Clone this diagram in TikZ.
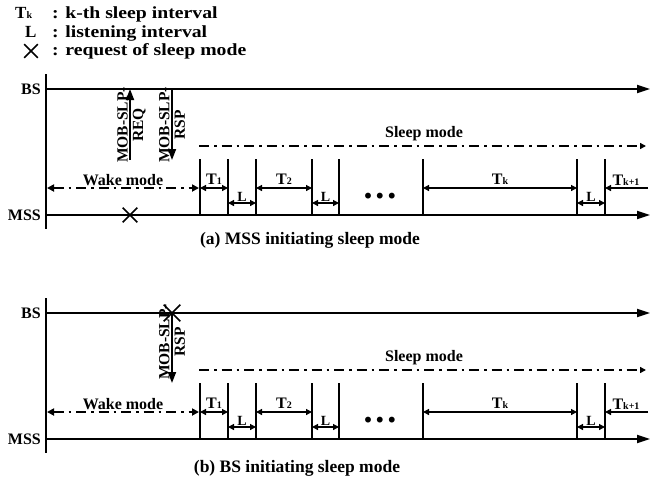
\documentclass[tikz,border=0pt]{standalone}
\usepackage{graphicx}
\usepackage{fontspec}
\setmainfont{Liberation Serif}
\usetikzlibrary{arrows.meta,shapes.misc}

\newcommand{\subidx}[1]{{\fontsize{10}{10}\selectfont #1}}
\newcommand{\keytext}[1]{\scalebox{1.16}[1]{#1}}

\tikzset{
  timeline/.style={line width=1.8pt, -{Triangle[length=13pt,width=8pt]}},
  tick/.style={line width=1.8pt},
  span/.style={line width=1.3pt, {Triangle[length=6pt,width=6pt]}-{Triangle[length=6pt,width=6pt]}},
  wake/.style={line width=2.4pt, dash pattern=on 10pt off 5pt on 2.5pt off 5pt,
    {Triangle[length=7pt,width=7pt]}-{Triangle[length=7pt,width=7pt]}},
  sleep/.style={line width=1.8pt, dash pattern=on 10pt off 5pt on 2.5pt off 5pt,
    -{Triangle[length=6pt,width=6pt]}},
  msg/.style={line width=1.8pt, -{Triangle[length=11pt,width=8pt]}},
  msgtext/.style={rotate=90, align=center, font=\bfseries\fontsize{15.5}{15.5}\selectfont, inner sep=0pt},
  req/.style={draw, cross out, line width=1.6pt, minimum size=13pt, inner sep=0pt},
  lbl/.style={font=\bfseries\fontsize{16}{16}\selectfont, inner sep=0pt},
  keyfont/.style={font=\bfseries\fontsize{17}{17}\selectfont, inner sep=0pt},
  small/.style={font=\bfseries\fontsize{14}{14}\selectfont, inner sep=0pt},
  caption/.style={font=\bfseries\fontsize{17.5}{17.5}\selectfont, inner sep=0pt},
}

\begin{document}
\begin{tikzpicture}[x=1pt, y=-1pt]
  \useasboundingbox (0,0) rectangle (654,485);

  % legend
  \node[keyfont, anchor=base west] (key-t) at (15,18) {T\subidx{k}};
  \node[keyfont, anchor=base west] (key-l) at (25,37) {L};
  \node[req, minimum size=12pt] (key-x) at (31,51) {};
  \node[keyfont, anchor=base west] (txt-t) at (52,18) {\keytext{: k-th sleep interval}};
  \node[keyfont, anchor=base west] (txt-l) at (52,37) {\keytext{: listening interval}};
  \node[keyfont, anchor=base west] (txt-x) at (52,55) {\keytext{: request of sleep mode}};

  % time axes, intervals and modes (same in both panels)
  \foreach \p/\dy in {a/0, b/224} {
    \begin{scope}[shift={(0,\dy)}]
      \coordinate (top-\p) at (46,74);
      \coordinate (bot-\p) at (46,229);
      \coordinate (bs0-\p) at (46,89);
      \coordinate (bs1-\p) at (650,89);
      \coordinate (ms0-\p) at (46,215);
      \coordinate (ms1-\p) at (650,215);
      \node[lbl, anchor=east] (bs-\p) at (41,89) {BS};
      \node[lbl, anchor=east] (mss-\p) at (41,215) {MSS};
      \draw[tick] (top-\p) -- (bot-\p);
      \draw[timeline] (bs0-\p) -- (bs1-\p);
      \draw[timeline] (ms0-\p) -- (ms1-\p);

      \foreach \x [count=\i] in {200,228,256,312,339,423,577,605} {
        \coordinate (u\i-\p) at (\x,159);
        \coordinate (v\i-\p) at (\x,215);
        \coordinate (t\i-\p) at (\x,188);
        \coordinate (l\i-\p) at (\x,203);
        \draw[tick] (u\i-\p) -- (v\i-\p);
      }

      \coordinate (sl0-\p) at (199,146);
      \coordinate (sl1-\p) at (646,146);
      \draw[sleep] (sl0-\p) -- (sl1-\p);
      \node[lbl, anchor=south] (sleep-\p) at (424,141) {Sleep mode};

      \coordinate (wk0-\p) at (47,188);
      \coordinate (wk1-\p) at (199,188);
      \draw[wake] (wk0-\p) -- (wk1-\p);
      \node[lbl, anchor=south] (wake-\p) at (123,185.5) {Wake mode};

      \draw[span] (t1-\p) -- (t2-\p) node[lbl, midway, above=2.5pt] {T\subidx{1}};
      \draw[span] (l2-\p) -- (l3-\p) node[small, midway, above=0.8pt] {L};
      \draw[span] (t3-\p) -- (t4-\p) node[lbl, midway, above=2.5pt] {T\subidx{2}};
      \draw[span] (l4-\p) -- (l5-\p) node[small, midway, above=0.8pt] {L};
      \draw[span] (t6-\p) -- (t7-\p) node[lbl, midway, above=2.5pt] {T\subidx{k}};
      \draw[span] (l7-\p) -- (l8-\p) node[small, midway, above=0.8pt] {L};
      \coordinate (tn-\p) at (648,188);
      \draw[line width=1.3pt, -{Triangle[length=6pt,width=6pt]}] (tn-\p) -- (t8-\p);
      \node[lbl, anchor=south] (tnl-\p) at (626,185.5) {T\subidx{k+1}};
      \node[font=\bfseries\fontsize{36}{36}\selectfont, inner sep=0pt] (dots-\p) at (380,196)
        {.\hspace{3pt}.\hspace{3pt}.};
    \end{scope}
  }

  % (a) MSS initiating
  \coordinate (req0) at (130,160);
  \coordinate (req1) at (130,89);
  \draw[msg] (req0) -- (req1);
  \node[msgtext] (reqtxt) at (131.5,125) {MOB-SLP-\\REQ};
  \coordinate (rsp0-a) at (172,89);
  \coordinate (rsp1-a) at (172,160);
  \draw[msg] (rsp0-a) -- (rsp1-a);
  \node[msgtext] (rsptxt-a) at (172,125) {MOB-SLP-\\RSP};
  \node[req] (mark-a) at (130,215) {};
  \node[caption] (cap-a) at (310,240) {(a) MSS initiating sleep mode};

  % (b) BS initiating
  \node[req, minimum size=15pt] (mark-b) at (172,313) {};
  \coordinate (rsp1-b) at (172,383);
  \draw[msg] (mark-b.center) -- (rsp1-b);
  \node[msgtext] (rsptxt-b) at (172,342) {MOB-SLP-\\RSP};
  \node[caption] (cap-b) at (297,468) {(b) BS initiating sleep mode};
\end{tikzpicture}
\end{document}
